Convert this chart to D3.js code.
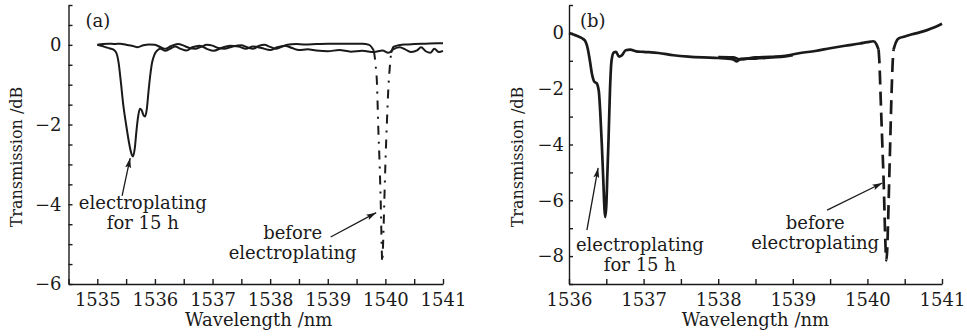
<!DOCTYPE html>
<html>
<head>
<meta charset="utf-8">
<script src="https://cdn.jsdelivr.net/npm/d3@7"></script>
<style>
  body { margin: 0; background: #fff; }
  svg text { font-family: "DejaVu Serif", "Liberation Serif", serif; fill: #1a1a1a; }
  .axis path, .axis line { stroke: #1a1a1a; stroke-width: 1.4; }
</style>
</head>
<body>
<div id="chart"></div>
<script>
// ---- data ----
// panel (a): wavelength nm, transmission dB
var aEp15h = [
  [1535.00, 0.00], [1535.08, -0.03], [1535.15, -0.06], [1535.22, -0.09], [1535.28, -0.12],
  [1535.33, -0.2], [1535.37, -0.45], [1535.41, -0.95], [1535.45, -1.5], [1535.5, -2.0],
  [1535.55, -2.45], [1535.59, -2.72], [1535.62, -2.8], [1535.65, -2.6], [1535.68, -2.15],
  [1535.71, -1.78], [1535.74, -1.6], [1535.77, -1.64], [1535.8, -1.76], [1535.83, -1.8],
  [1535.86, -1.6], [1535.89, -1.15], [1535.92, -0.75], [1535.95, -0.45], [1535.99, -0.25],
  [1536.04, -0.14], [1536.1, -0.1], [1536.18, -0.15], [1536.26, -0.1], [1536.35, -0.04],
  [1536.45, -0.1], [1536.55, -0.14], [1536.65, -0.06], [1536.78, -0.02], [1536.9, -0.1],
  [1537.02, -0.15], [1537.15, -0.08], [1537.3, -0.02], [1537.45, -0.04], [1537.58, -0.1],
  [1537.7, -0.04], [1537.85, -0.08], [1538.0, -0.13], [1538.12, -0.06], [1538.25, -0.02],
  [1538.38, -0.08], [1538.5, -0.13], [1538.65, -0.11], [1538.8, -0.14], [1539.0, -0.16],
  [1539.2, -0.13], [1539.4, -0.17], [1539.6, -0.15], [1539.8, -0.18], [1539.95, -0.14],
  [1540.05, -0.2], [1540.15, -0.1], [1540.25, -0.06], [1540.35, -0.12], [1540.45, -0.18],
  [1540.55, -0.14], [1540.62, -0.06], [1540.7, -0.16], [1540.78, -0.2], [1540.85, -0.1],
  [1540.93, -0.18], [1541.0, -0.15]
];
var aBefore = [
  [1535.0, 0.0], [1535.1, 0.02], [1535.2, 0.03], [1535.3, 0.02], [1535.4, 0.03], [1535.5, 0.0],
  [1535.6, -0.02], [1535.7, -0.06], [1535.8, -0.01], [1535.9, 0.01], [1536.0, 0.0],
  [1536.1, -0.06], [1536.18, -0.1], [1536.28, -0.03], [1536.4, 0.02], [1536.5, -0.02],
  [1536.6, -0.08], [1536.7, -0.1], [1536.8, -0.05], [1536.9, 0.0], [1537.0, -0.02],
  [1537.1, -0.08], [1537.2, -0.1], [1537.35, -0.04], [1537.5, -0.01], [1537.6, -0.06],
  [1537.7, -0.1], [1537.8, -0.03], [1537.9, 0.0], [1538.0, -0.05], [1538.1, -0.1],
  [1538.2, -0.05], [1538.3, 0.0], [1538.45, 0.02], [1538.6, 0.01], [1538.8, 0.02],
  [1539.0, 0.03], [1539.2, 0.03], [1539.4, 0.03], [1539.6, 0.03], [1539.72, 0.0],
  [1539.8, -0.15], [1539.83, -0.5], [1539.855, -1.0], [1539.875, -2.0], [1539.9, -3.0],
  [1539.92, -4.0], [1539.935, -5.0], [1539.945, -5.45], [1539.96, -5.0], [1539.98, -4.0],
  [1540.0, -3.0], [1540.025, -2.0], [1540.055, -1.0], [1540.08, -0.5], [1540.1, -0.2],
  [1540.14, -0.05], [1540.2, -0.02], [1540.35, 0.01], [1540.5, 0.02], [1540.7, 0.03],
  [1540.9, 0.04], [1541.0, 0.04]
];
var aDip = [1539.8, 1540.1];

// panel (b)
var bEp15h = [
  [1536.0, 0.0], [1536.06, -0.06], [1536.12, -0.12], [1536.18, -0.2], [1536.22, -0.3],
  [1536.25, -0.55], [1536.28, -1.0], [1536.31, -1.5], [1536.34, -1.75], [1536.37, -1.8],
  [1536.4, -2.1], [1536.42, -2.9], [1536.44, -4.0], [1536.46, -5.3], [1536.475, -6.3],
  [1536.485, -6.6], [1536.5, -6.2], [1536.515, -5.0], [1536.53, -3.8], [1536.55, -2.0],
  [1536.57, -1.0], [1536.6, -0.7], [1536.63, -0.68], [1536.67, -0.85], [1536.71, -0.8],
  [1536.76, -0.62], [1536.82, -0.6], [1536.9, -0.66], [1537.0, -0.68], [1537.2, -0.72],
  [1537.4, -0.8], [1537.6, -0.85], [1537.8, -0.88], [1538.0, -0.9], [1538.2, -0.95],
  [1538.25, -1.02], [1538.3, -0.93], [1538.5, -0.92], [1538.7, -0.88], [1538.9, -0.84],
  [1539.0, -0.8]
];
var bBefore = [
  [1538.0, -0.87], [1538.2, -0.88], [1538.3, -0.95], [1538.5, -0.88], [1538.7, -0.86],
  [1538.9, -0.82], [1539.1, -0.72], [1539.3, -0.65], [1539.5, -0.55], [1539.7, -0.46],
  [1539.9, -0.38], [1540.0, -0.33], [1540.08, -0.3], [1540.12, -0.4], [1540.15, -0.6],
  [1540.16, -1.0], [1540.18, -2.5], [1540.2, -4.0], [1540.22, -5.5], [1540.235, -7.0],
  [1540.245, -7.8], [1540.255, -8.15], [1540.265, -7.8], [1540.275, -7.0], [1540.29, -5.5],
  [1540.305, -4.0], [1540.32, -2.5], [1540.34, -1.0], [1540.35, -0.6], [1540.38, -0.35],
  [1540.42, -0.2], [1540.5, -0.13], [1540.6, -0.05], [1540.7, 0.02], [1540.8, 0.1],
  [1540.9, 0.2], [1541.0, 0.33]
];
var bDip = [1540.15, 1540.35];

var xTicksA = d3.range(1534.5, 1541.01, 0.5);
var yTicksA = d3.range(-6, 1.01, 0.5);
var xTicksB = d3.range(1536, 1541.01, 0.5);
var yTicksB = d3.range(-9, 1.01, 1);

var xLabel = "Wavelength /nm";
var yLabel = "Transmission /dB";

var svg = d3.select("#chart").append("svg")
    .attr("width", 967)
    .attr("height", 336);

var arrowDef = svg.append("defs").append("marker")
    .attr("id", "head")
    .attr("viewBox", "0 0 10 6")
    .attr("refX", 10).attr("refY", 3)
    .attr("markerWidth", 10).attr("markerHeight", 6)
    .attr("markerUnits", "userSpaceOnUse")
    .attr("orient", "auto");
arrowDef.append("path").attr("d", "M0,0 L10,3 L0,6 L2,3 Z").attr("fill", "#1a1a1a");

function panel(cfg) {
    var x = d3.scaleLinear().domain(cfg.xDomain).range(cfg.xRange);
    var y = d3.scaleLinear().domain(cfg.yDomain).range([284, 5]);
    var g = svg.append("g");

    g.append("g").attr("class", "axis")
        .attr("transform", "translate(0,284)")
        .call(d3.axisBottom(x).tickValues(cfg.xTicks).tickSizeInner(-5).tickSizeOuter(0).tickPadding(9)
            .tickFormat(function(d) { return d % 1 === 0 ? d3.format("d")(d) : ""; }))
        .call(function(a) { a.selectAll("text").style("font-size", "18px"); });

    g.append("g").attr("class", "axis")
        .attr("transform", "translate(" + cfg.xRange[0] + ",0)")
        .call(d3.axisLeft(y).tickValues(cfg.yTicks).tickSizeInner(-4).tickSizeOuter(0).tickPadding(cfg.yPad)
            .tickFormat(function(d) { return d % 2 === 0 ? d3.format("d")(d) : ""; }))
        .call(function(a) { a.selectAll("text").style("font-size", "18px"); });

    var solid = d3.line()
        .defined(function(d) { return d[0] <= cfg.dip[0] || d[0] >= cfg.dip[1]; })
        .x(function(d) { return x(d[0]); })
        .y(function(d) { return y(d[1]); })
        .curve(d3.curveMonotoneX);
    var dashed = d3.line()
        .defined(function(d) { return d[0] >= cfg.dip[0] && d[0] <= cfg.dip[1]; })
        .x(function(d) { return x(d[0]); })
        .y(function(d) { return y(d[1]); })
        .curve(d3.curveMonotoneX);
    var plain = d3.line()
        .x(function(d) { return x(d[0]); })
        .y(function(d) { return y(d[1]); })
        .curve(d3.curveMonotoneX);

    g.append("path").datum(cfg.before)
        .attr("d", solid).attr("fill", "none")
        .attr("stroke", "#1a1a1a").attr("stroke-width", cfg.lw);
    g.append("path").datum(cfg.before)
        .attr("d", dashed).attr("fill", "none")
        .attr("stroke", "#1a1a1a").attr("stroke-width", cfg.lw)
        .attr("stroke-dasharray", cfg.dash);
    g.append("path").datum(cfg.ep)
        .attr("d", plain).attr("fill", "none")
        .attr("stroke", "#1a1a1a").attr("stroke-width", cfg.lw)
        .attr("stroke-linejoin", "round");

    // panel tag
    g.append("text").attr("x", cfg.xRange[0] + cfg.tagDx).attr("y", 27)
        .style("font-size", "18px").text(cfg.tag);

    // axis titles
    g.append("text")
        .attr("x", (cfg.xRange[0] + cfg.xRange[1]) / 2 + cfg.xTitleDx).attr("y", 326)
        .attr("text-anchor", "middle").style("font-size", "18px").text(xLabel);
    g.append("text")
        .attr("transform", "translate(" + cfg.yTitleX + ",157) rotate(-90)")
        .attr("text-anchor", "middle").attr("dy", "0.35em")
        .style("font-size", "16px").text(yLabel);

    // annotations
    cfg.notes.forEach(function(n) {
        var t = g.append("text").attr("text-anchor", "middle").style("font-size", "18px");
        n.lines.forEach(function(s, i) {
            t.append("tspan").attr("x", x(n.at[0])).attr("y", y(n.at[1]) + i * 20).text(s);
        });
        g.append("line")
            .attr("x1", x(n.from[0])).attr("y1", y(n.from[1]))
            .attr("x2", x(n.to[0])).attr("y2", y(n.to[1]))
            .attr("stroke", "#1a1a1a").attr("stroke-width", 1.3)
            .attr("marker-end", "url(#head)");
    });
}

panel({
    tag: "(a)", tagDx: 17,
    xDomain: [1534.5, 1541], xRange: [68.5, 443],
    yDomain: [-6, 1], xTicks: xTicksA, yTicks: yTicksA, yPad: 7,
    xTitleDx: 3, yTitleX: 16,
    ep: aEp15h, before: aBefore, dip: aDip,
    lw: 2, dash: "9,7,2,7",
    notes: [
        { lines: ["electroplating", "for 15 h"], at: [1535.79, -4.12], from: [1535.43, -3.79], to: [1535.57, -2.84] },
        { lines: ["before", "electroplating"], at: [1538.39, -4.87], from: [1539.05, -4.82], to: [1539.84, -4.21] }
    ]
});

panel({
    tag: "(b)", tagDx: 11,
    xDomain: [1536, 1541], xRange: [569, 942],
    yDomain: [-9, 1], xTicks: xTicksB, yTicks: yTicksB, yPad: 5,
    xTitleDx: 0, yTitleX: 517,
    ep: bEp15h, before: bBefore, dip: bDip,
    lw: 2.7, dash: "14,7",
    notes: [
        { lines: ["electroplating", "for 15 h"], at: [1536.95, -7.8], from: [1536.24, -7.07], to: [1536.39, -4.84] },
        { lines: ["before", "electroplating"], at: [1539.30, -7.04], from: [1539.46, -6.35], to: [1540.2, -5.38] }
    ]
});
</script>
</body>
</html>
